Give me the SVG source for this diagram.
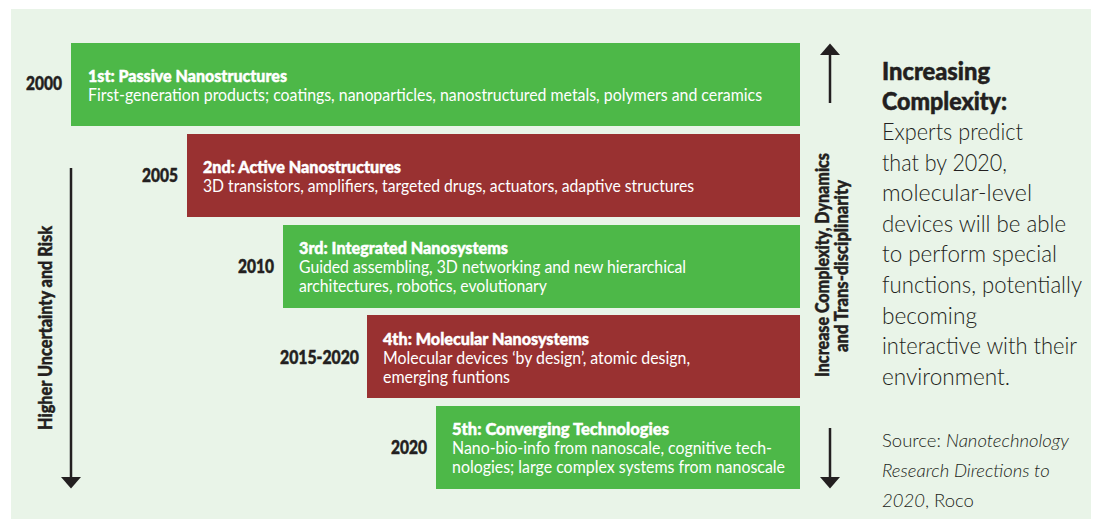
<svg xmlns="http://www.w3.org/2000/svg" width="1095" height="519" viewBox="0 0 1095 519">
  <style>
    .bg { fill: #E9F4E8; }
    .green { fill: #4DB848; }
    .red { fill: #993131; }
    .title { font-family: Lato, "Liberation Sans", sans-serif; font-weight: 900; font-size: 16.5px; fill: #FFFFFF; stroke: #FFFFFF; stroke-width: 0.45; }
    .sub { font-family: Lato, "Liberation Sans", sans-serif; font-size: 17px; fill: #FFFFFF; }
    .year { font-family: Lato, "Liberation Sans", sans-serif; font-weight: 900; font-size: 18px; fill: #231F20; stroke: #231F20; stroke-width: 0.45; text-anchor: end; }
    .axis-label { font-family: Lato, "Liberation Sans", sans-serif; font-weight: 900; font-size: 18.5px; fill: #231F20; stroke: #231F20; stroke-width: 0.45; text-anchor: middle; }
    .axis { stroke: #231F20; stroke-width: 2.5; fill: none; marker-end: url(#head); }
    .head { font-family: Lato, "Liberation Sans", sans-serif; font-weight: 900; font-size: 24px; fill: #231F20; stroke: #231F20; stroke-width: 0.5; }
    .body { font-family: Lato, "Liberation Sans", sans-serif; font-weight: 300; font-size: 22.5px; fill: #231F20; }
    .src { font-family: Lato, "Liberation Sans", sans-serif; font-weight: 300; font-size: 18.5px; fill: #231F20; }
  </style>
  <defs>
    <marker id="head" markerUnits="userSpaceOnUse" markerWidth="12" markerHeight="20" viewBox="0 0 12 20" refX="0" refY="10" orient="auto">
      <path d="M0,0 L11.5,10 L0,20 Z" fill="#231F20"/>
    </marker>
  </defs>

  <!-- panel background -->
  <rect class="bg" x="11" y="9" width="1080" height="510"/>

  <!-- generation bands -->
  <g id="gen1">
    <rect class="green" x="71" y="43" width="729" height="83"/>
    <text class="year" x="62" y="90" textLength="36" lengthAdjust="spacingAndGlyphs">2000</text>
    <text class="title" x="88" y="82" textLength="199" lengthAdjust="spacingAndGlyphs">1st: Passive Nanostructures</text>
    <text class="sub" x="88" y="101" textLength="674" lengthAdjust="spacingAndGlyphs">First-generation products; coatings, nanoparticles, nanostructured metals, polymers and ceramics</text>
  </g>

  <g id="gen2">
    <rect class="red" x="187" y="134" width="613" height="83"/>
    <text class="year" x="178" y="182" textLength="36" lengthAdjust="spacingAndGlyphs">2005</text>
    <text class="title" x="203" y="173" textLength="198" lengthAdjust="spacingAndGlyphs">2nd: Active Nanostructures</text>
    <text class="sub" x="203" y="192" textLength="491" lengthAdjust="spacingAndGlyphs">3D transistors, amplifiers, targeted drugs, actuators, adaptive structures</text>
  </g>

  <g id="gen3">
    <rect class="green" x="283" y="225" width="517" height="83"/>
    <text class="year" x="274" y="273" textLength="36" lengthAdjust="spacingAndGlyphs">2010</text>
    <text class="title" x="299" y="254" textLength="209" lengthAdjust="spacingAndGlyphs">3rd: Integrated Nanosystems</text>
    <text class="sub" x="299" y="273" textLength="387" lengthAdjust="spacingAndGlyphs">Guided assembling, 3D networking and new hierarchical</text>
    <text class="sub" x="299" y="292" textLength="248" lengthAdjust="spacingAndGlyphs">architectures, robotics, evolutionary</text>
  </g>

  <g id="gen4">
    <rect class="red" x="367" y="315" width="433" height="83"/>
    <text class="year" x="359" y="364" textLength="79" lengthAdjust="spacingAndGlyphs">2015-2020</text>
    <text class="title" x="383" y="345" textLength="206" lengthAdjust="spacingAndGlyphs">4th: Molecular Nanosystems</text>
    <text class="sub" x="383" y="364" textLength="307" lengthAdjust="spacingAndGlyphs">Molecular devices ‘by design’, atomic design,</text>
    <text class="sub" x="383" y="383" textLength="127" lengthAdjust="spacingAndGlyphs">emerging funtions</text>
  </g>

  <g id="gen5">
    <rect class="green" x="436" y="406" width="364" height="83"/>
    <text class="year" x="427" y="454" textLength="36" lengthAdjust="spacingAndGlyphs">2020</text>
    <text class="title" x="452" y="435" textLength="217" lengthAdjust="spacingAndGlyphs">5th: Converging Technologies</text>
    <text class="sub" x="452" y="454" textLength="320" lengthAdjust="spacingAndGlyphs">Nano-bio-info from nanoscale, cognitive tech-</text>
    <text class="sub" x="452" y="473" textLength="333" lengthAdjust="spacingAndGlyphs">nologies; large complex systems from nanoscale</text>
  </g>

  <!-- axis arrows -->
  <g id="connectors">
    <line class="axis" x1="71" y1="168" x2="71" y2="477"/>
    <line class="axis" x1="830" y1="103" x2="830" y2="55"/>
    <line class="axis" x1="830" y1="428" x2="830" y2="477"/>
  </g>

  <!-- axis captions -->
  <g id="risk-label">
    <text class="axis-label" transform="translate(51.5,328) rotate(-90)" textLength="204" lengthAdjust="spacingAndGlyphs">Higher Uncertainty and Risk</text>
  </g>
  <g id="complexity-label">
    <text class="axis-label" transform="translate(829,265) rotate(-90)" textLength="224" lengthAdjust="spacingAndGlyphs">Increase Complexity, Dynamics</text>
    <text class="axis-label" transform="translate(848,266) rotate(-90)" textLength="172" lengthAdjust="spacingAndGlyphs">and Trans-disciplinarity</text>
  </g>

  <!-- side note -->
  <g id="note">
    <text class="head" x="882" y="80" textLength="108" lengthAdjust="spacingAndGlyphs">Increasing</text>
    <text class="head" x="882" y="109.5" textLength="125" lengthAdjust="spacingAndGlyphs">Complexity:</text>
    <text class="body" x="882" y="140" textLength="141" lengthAdjust="spacingAndGlyphs">Experts predict</text>
    <text class="body" x="882" y="170.6" textLength="125" lengthAdjust="spacingAndGlyphs">that by 2020,</text>
    <text class="body" x="882" y="201.2" textLength="150" lengthAdjust="spacingAndGlyphs">molecular-level</text>
    <text class="body" x="882" y="231.8" textLength="184" lengthAdjust="spacingAndGlyphs">devices will be able</text>
    <text class="body" x="882" y="262.4" textLength="175" lengthAdjust="spacingAndGlyphs">to perform special</text>
    <text class="body" x="882" y="293" textLength="200" lengthAdjust="spacingAndGlyphs">functions, potentially</text>
    <text class="body" x="882" y="323.6" textLength="95" lengthAdjust="spacingAndGlyphs">becoming</text>
    <text class="body" x="882" y="354.2" textLength="195" lengthAdjust="spacingAndGlyphs">interactive with their</text>
    <text class="body" x="882" y="384.8" textLength="128" lengthAdjust="spacingAndGlyphs">environment.</text>
  </g>

  <g id="source">
    <text class="src" x="882" y="446.7">Source: <tspan font-style="italic">Nanotechnology</tspan></text>
    <text class="src" x="882" y="476.7" font-style="italic">Research Directions to</text>
    <text class="src" x="882" y="506.7"><tspan font-style="italic">2020</tspan>, Roco</text>
  </g>
</svg>
